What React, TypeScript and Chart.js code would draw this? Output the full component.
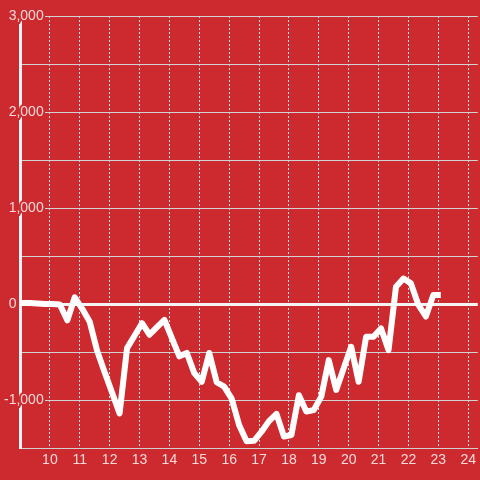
import React, { useEffect, useRef } from 'react';
import { Chart, registerables } from 'chart.js';

Chart.register(...registerables);

// Hours of day (x) and values (y)
const hours = [
  8.833, 9.083, 9.333, 9.583, 9.833, 10.083, 10.333, 10.583, 10.833, 11.083,
  11.333, 11.583, 11.833, 12.083, 12.333, 12.583, 12.833, 13.083, 13.333, 13.583,
  13.833, 14.083, 14.333, 14.583, 14.833, 15.083, 15.333, 15.583, 15.833, 16.083,
  16.333, 16.583, 16.833, 17.083, 17.333, 17.583, 17.833, 18.083, 18.333, 18.583,
  18.833, 19.083, 19.333, 19.583, 19.833, 20.083, 20.333, 20.583, 20.833, 21.083,
  21.333, 21.583, 21.833, 22.083, 22.333, 22.583, 22.833, 23.083,
];
const values = [
  10, 10, 10, 5, 0, 0, -5, -170, 70, -50,
  -185, -490, -710, -925, -1140, -460, -330, -200, -320, -240,
  -165, -355, -545, -510, -720, -810, -510, -815, -860, -985,
  -1260, -1430, -1425, -1330, -1220, -1145, -1380, -1365, -950, -1120,
  -1105, -965, -585, -895, -670, -445, -810, -340, -340, -255,
  -480, 180, 265, 215, -10, -130, 95, 95,
];

const xTickValues = [10, 11, 12, 13, 14, 15, 16, 17, 18, 19, 20, 21, 22, 23, 24];
const yGridValues = [-1500, -1000, -500, 0, 500, 1000, 1500, 2000, 2500, 3000];
const yLabelled = [3000, 2000, 1000, 0, -1000];

const BG = '#cc2a2f';
const TEXT = 'rgba(255,255,255,0.82)';
const FONT = { family: '"Liberation Sans", Arial, sans-serif', size: 14 };

export default function App() {
  const ref = useRef<HTMLCanvasElement | null>(null);

  useEffect(() => {
    if (!ref.current) return;
    const chart = new Chart(ref.current, {
      type: 'line',
      data: {
        datasets: [
          {
            data: hours.map((h, i) => ({ x: h, y: values[i] })),
            borderColor: '#ffffff',
            borderWidth: 6,
            borderJoinStyle: 'round',
            pointRadius: 0,
            tension: 0,
            fill: false,
          },
        ],
      },
      options: {
        animation: false,
        responsive: false,
        devicePixelRatio: 1,
        layout: { padding: { top: 16, left: 0, right: 0, bottom: 0 } },
        plugins: { legend: { display: false }, tooltip: { enabled: false } },
        scales: {
          x: {
            type: 'linear',
            min: 9,
            max: 24.32,
            afterBuildTicks: (s: any) => {
              s.ticks = xTickValues.map((v) => ({ value: v }));
            },
            afterFit: (s: any) => {
              s.height = 32;
            },
            grid: { color: '#e6e6e6', lineWidth: 1, drawTicks: false },
            border: { color: '#cfcfcf', width: 1, dash: [2, 2] },
            ticks: {
              autoSkip: false,
              maxRotation: 0,
              padding: 4,
              color: TEXT,
              font: FONT,
              callback: (v: any) => String(v),
            },
          },
          y: {
            type: 'linear',
            min: -1500,
            max: 3000,
            afterBuildTicks: (s: any) => {
              s.ticks = yGridValues.map((v) => ({ value: v }));
            },
            afterFit: (s: any) => {
              s.width = 20;
            },
            grid: {
              drawTicks: false,
              color: (ctx: any) => (ctx.tick && ctx.tick.value === 0 ? '#f4f4f4' : '#d2d2d2'),
              lineWidth: (ctx: any) => (ctx.tick && ctx.tick.value === 0 ? 3 : 1),
            },
            border: { color: '#f4f4f4', width: 3 },
            ticks: {
              autoSkip: false,
              mirror: true,
              crossAlign: 'far',
              padding: -16,
              color: TEXT,
              font: FONT,
              textStrokeColor: BG,
              textStrokeWidth: 4,
              callback: (v: any) => {
                if (!yLabelled.includes(v)) return '';
                if (v === 0) return '0       ';
                return Number(v).toLocaleString('en-US');
              },
            },
          },
        },
      },
    });
    return () => chart.destroy();
  }, []);

  return (
    <canvas
      ref={ref}
      width={480}
      height={480}
      style={{ position: 'fixed', left: 0, top: 0, width: 480, height: 480, background: BG }}
    />
  );
}
